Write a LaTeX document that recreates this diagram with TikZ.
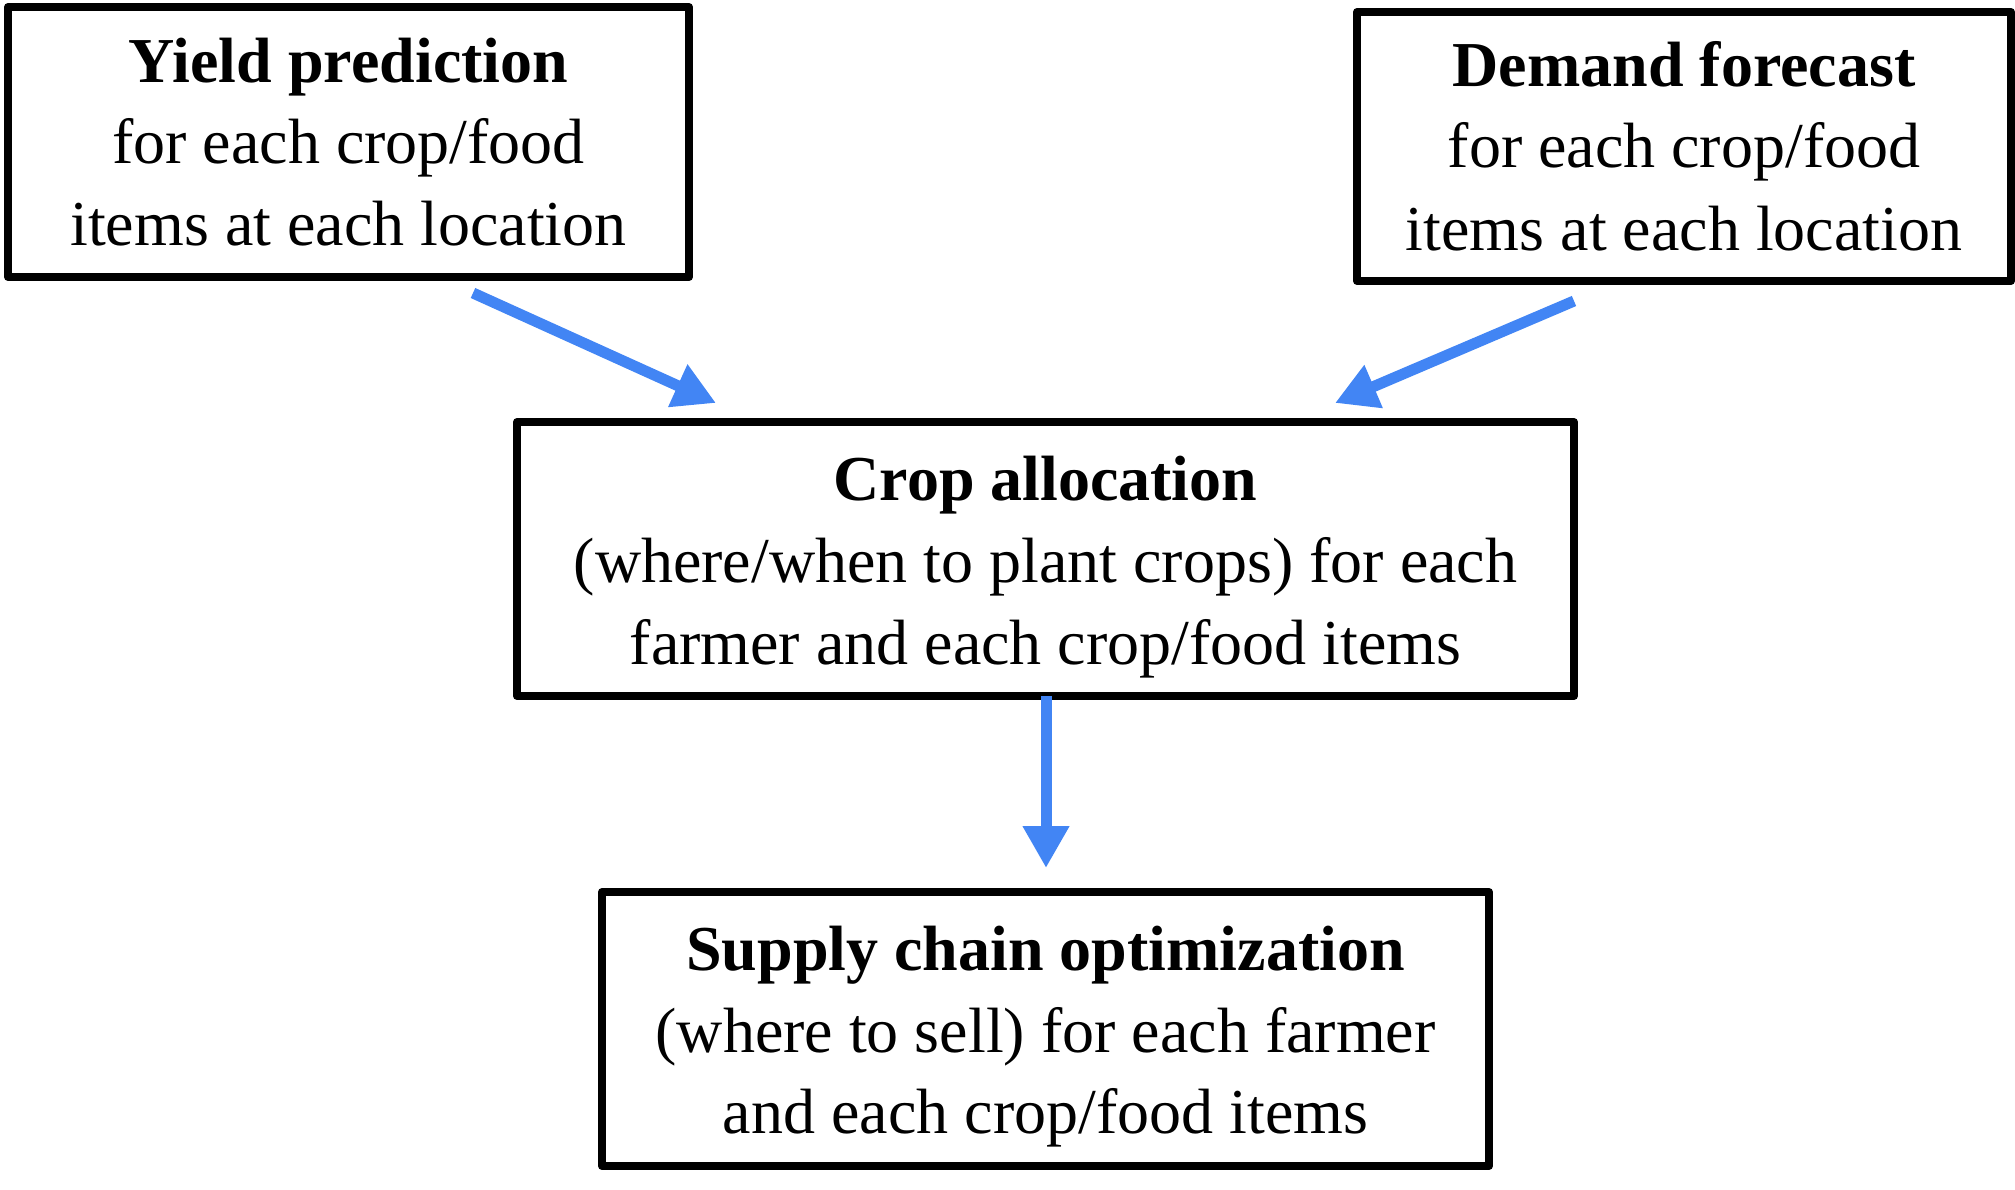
\documentclass[tikz,border=0pt]{standalone}
\usepackage{fontspec}
\setmainfont{Liberation Serif}
\usetikzlibrary{arrows.meta}
\definecolor{arrowblue}{RGB}{66,133,244}
\begin{document}
\begin{tikzpicture}[x=1pt,y=-1pt,
  box/.style={draw=black, line width=8pt, line join=round, inner sep=0pt, rectangle},
  txt/.style={anchor=base, inner sep=0pt, font=\fontsize{64}{82}\selectfont},
  ttl/.style={anchor=base, inner sep=0pt, font=\fontsize{64}{82}\selectfont\bfseries},
  flow/.style={draw=arrowblue, line width=11pt, -{Triangle[length=42pt,width=44pt]}}]
\useasboundingbox (0,0) rectangle (2015,1189);
% boxes
\node[box, minimum width=681pt, minimum height=270pt] (yield) at (348.5,142) {};
\node[box, minimum width=654pt, minimum height=269pt] (demand) at (1684,146.5) {};
\node[box, minimum width=1057pt, minimum height=274pt] (crop) at (1045.5,559) {};
\node[box, minimum width=887pt, minimum height=274pt] (supply) at (1045.5,1029) {};
% texts
\node[ttl] (yield1) at (348.5,82) {Yield prediction};
\node[txt] (yield2) at (348.5,163) {for each crop/food};
\node[txt] (yield3) at (348.5,245) {items at each location};
\node[ttl] (demand1) at (1684,86) {Demand forecast};
\node[txt] (demand2) at (1684,167) {for each crop/food};
\node[txt] (demand3) at (1684,250) {items at each location};
\node[ttl] (crop1) at (1045.5,500) {Crop allocation};
\node[txt] (crop2) at (1045.5,582) {(where/when to plant crops) for each};
\node[txt] (crop3) at (1045.5,664) {farmer and each crop/food items};
\node[ttl] (supply1) at (1045.5,970) {Supply chain optimization};
\node[txt] (supply2) at (1045.5,1052) {(where to sell) for each farmer};
\node[txt] (supply3) at (1045.5,1133) {and each crop/food items};
% connector ends
\coordinate (ystart) at (473,293);
\coordinate (yend) at (716,403);
\coordinate (dstart) at (1574,301);
\coordinate (dend) at (1335,403);
\coordinate (cstart) at (1046,696);
\coordinate (cend) at (1046,868);
\draw[flow] (ystart) -- (yend);
\draw[flow] (dstart) -- (dend);
\draw[flow] (cstart) -- (cend);
\end{tikzpicture}
\end{document}
